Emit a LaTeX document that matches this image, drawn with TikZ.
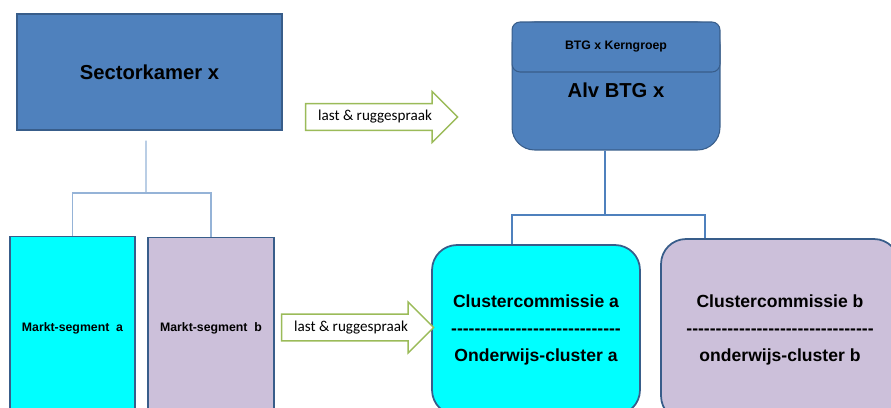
\documentclass[tikz,border=0pt]{standalone}
\usepackage{fontspec}
\setmainfont{Liberation Sans}
\newfontfamily\calibri{Carlito}
\usetikzlibrary{shapes.arrows, positioning}
\definecolor{boxblue}{HTML}{4F81BD}
\definecolor{boxedge}{HTML}{385D8A}
\definecolor{lila}{HTML}{CCC0DA}
\definecolor{aqua}{HTML}{00FFFF}
\definecolor{treeblue}{HTML}{95B3D7}
\definecolor{arrowgreen}{HTML}{9BBB59}
\newcommand{\dashrow}[1]{\foreach \n in {1,...,#1}{-}}

\begin{document}
\begin{tikzpicture}[x=0.02cm, y=-0.02cm]

		% Setup the styles for the boxes
		\tikzset{blue box/.style={rectangle,
				draw=boxedge,
				line width=0.6pt,
				fill=boxblue},
			segment box/.style={rectangle,
				draw=boxedge,
				line width=1pt,
				font=\fontsize{7}{8}\selectfont\bfseries},
			cluster box/.style={rectangle,
				rounded corners=0.5cm,
				draw=boxedge,
				line width=1pt,
				align=center,
				font=\fontsize{10}{15.3}\selectfont\bfseries},
			talk arrow/.style={single arrow,
				draw=arrowgreen,
				line width=0.8pt,
				fill=white,
				single arrow head extend=6.9pt,
				minimum height=3.04cm,
				inner ysep=3.3pt,
				text height=6pt,
				text depth=1.8pt,
				font=\normalfont\calibri\fontsize{8.6}{10}\selectfont},
			tree line/.style={draw=treeblue, line width=0.6pt},
			cluster line/.style={draw=boxblue, line width=1.1pt}}

		\useasboundingbox (0, 0) rectangle (891, 408);
		\clip (0, 0) rectangle (891, 408);

		% Draw the boxes
		\node[blue box, minimum width=5.3cm, minimum height=2.32cm,
			font=\fontsize{11.5}{13}\selectfont\bfseries] at (149.5, 72) (sector) {Sectorkamer x};
		\node[segment box, fill=aqua, minimum width=2.5cm, minimum height=3.66cm] at (72.5, 328) (marktA) {Markt-segment~ a};
		\node[segment box, fill=lila, minimum width=2.52cm, minimum height=3.62cm] at (211, 328) (marktB) {Markt-segment~ b};
		\node[blue box, rounded corners=0.45cm, minimum width=4.16cm, minimum height=2.56cm] at (616, 86) (btg) {};
		\node[blue box, rounded corners=0.16cm, minimum width=4.16cm, minimum height=1cm,
			font=\fontsize{7}{8}\selectfont\bfseries] at (616, 47) (kern) {BTG x Kerngroep};
		\node[font=\fontsize{11.5}{13}\selectfont\bfseries] at (616, 90) (alv) {Alv BTG x};
		\node[cluster box, fill=aqua, minimum width=4.16cm, minimum height=3.4cm] at (536, 330) (clusterA)
			{Clustercommissie a\\\dashrow{29}\\Onderwijs-cluster a};
		\node[cluster box, fill=lila, minimum width=4.76cm, minimum height=3.64cm] at (780, 330) (clusterB)
			{Clustercommissie b\\\dashrow{32}\\onderwijs-cluster b};

		% Draw the arrows
		\node[talk arrow] at (375, 117) (talkTop) {last \& ruggespraak};
		\node[talk arrow] at (351, 327.5) (talkBottom) {last \& ruggespraak};

		% Connect the boxes
		\coordinate (leftSplit) at (146, 193);
		\coordinate (rightSplit) at (605, 215);
		\draw[tree line] ([xshift=-0.07cm, yshift=-0.2cm]sector.south) -- (leftSplit);
		\draw[tree line] (marktA.north) |- (leftSplit) -| (marktB.north);
		\draw[cluster line] ([xshift=-0.22cm]btg.south) -- (rightSplit);
		\draw[cluster line] ([xshift=-0.48cm]clusterA.north) |- (rightSplit) -| ([xshift=-1.5cm]clusterB.north);
\end{tikzpicture}
\end{document}
